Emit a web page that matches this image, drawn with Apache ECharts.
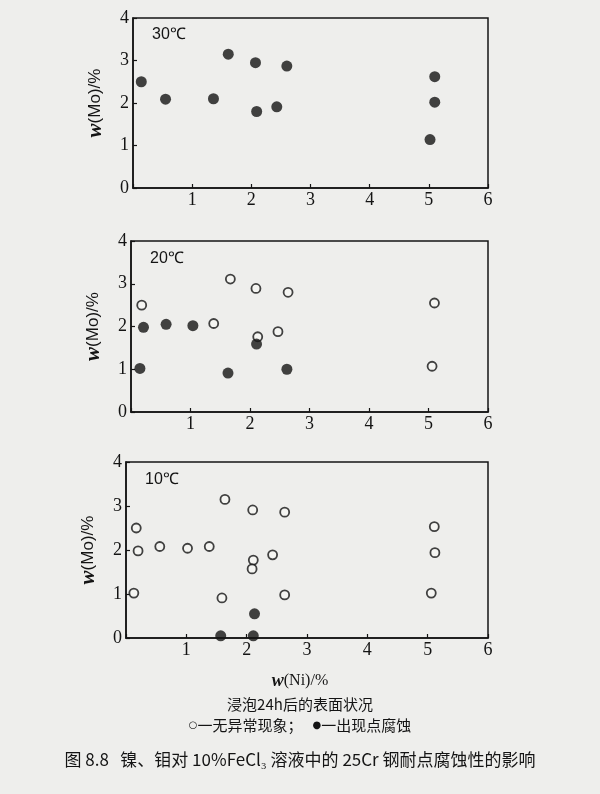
<!DOCTYPE html>
<html><head><meta charset="utf-8">
<script src="https://cdn.jsdelivr.net/npm/echarts@6/dist/echarts.min.js"></script>
<style>html,body{margin:0;background:#eeeeec}#c{width:600px;height:794px}</style></head>
<body><div id="c"></div>
<script>
// Data: [w(Ni)%, w(Mo)%]
const temps = ['30℃', '20℃', '10℃'];
const p30_ok = [];
const p30_pit = [[0.14,2.50],[0.55,2.09],[1.36,2.10],[1.61,3.15],[2.07,2.95],[2.09,1.80],[2.43,1.91],[2.60,2.87],[5.10,2.62],[5.10,2.02],[5.02,1.14]];
const p20_ok = [[0.18,2.50],[1.39,2.07],[1.67,3.11],[2.10,2.89],[2.13,1.76],[2.47,1.88],[2.64,2.80],[5.10,2.55],[5.06,1.07]];
const p20_pit = [[0.15,1.02],[0.21,1.98],[0.59,2.05],[1.04,2.02],[1.63,0.91],[2.11,1.59],[2.62,1.00]];
const p10_ok = [[0.17,2.50],[0.20,1.98],[0.13,1.02],[0.56,2.08],[1.02,2.04],[1.38,2.08],[1.64,3.15],[2.10,2.91],[2.11,1.77],[2.09,1.57],[2.43,1.89],[1.59,0.91],[2.63,2.86],[2.63,0.98],[5.11,2.53],[5.12,1.94],[5.06,1.02]];
const p10_pit = [[1.57,0.05],[2.11,0.05],[2.13,0.55]];
const xTicks = [0,1,2,3,4,5,6];
const yTicks = [0,1,2,3,4];
const noteLine1 = '浸泡24h后的表面状况';
const legendOk = '一无异常现象；';
const legendPit = '一出现点腐蚀';
const caption = '图 8.8   镍、钼对 10%FeCl₃ 溶液中的 25Cr 钢耐点腐蚀性的影响';

const okSets = [p30_ok, p20_ok, p10_ok];
const pitSets = [p30_pit, p20_pit, p10_pit];
const ink = '#141414';
const grids = [
  {left:133, top:18, width:355, height:170},
  {left:131, top:241, width:357, height:171},
  {left:126, top:462, width:362, height:176}
];
const chart = echarts.init(document.getElementById('c'));
const xAxes = [], yAxes = [], series = [], graphics = [];
grids.forEach((g, i) => {
  g.show = true; g.borderColor = ink; g.borderWidth = 1.5; g.backgroundColor = 'transparent';
  xAxes.push({gridIndex:i, type:'value', min:xTicks[0], max:xTicks[xTicks.length-1], interval:1,
    axisLine:{onZero:false, lineStyle:{color:ink, width:1.5}},
    axisTick:{inside:true, length:4, lineStyle:{color:ink, width:1.2}},
    axisLabel:{margin:3, color:ink, fontFamily:'Liberation Serif', fontSize:18,
      formatter: v => v === 0 ? '' : String(v)},
    splitLine:{show:false}});
  yAxes.push({gridIndex:i, type:'value', min:yTicks[0], max:yTicks[yTicks.length-1], interval:1,
    name: '{i|w}{n|(Mo)/%}', nameLocation:'middle', nameGap:27, nameRotate:90,
    nameTextStyle:{rich:{i:{fontFamily:'Liberation Serif', fontStyle:'italic', fontWeight:'bold', fontSize:21, color:ink},
                         n:{fontFamily:'Liberation Sans', fontSize:17, color:ink}}},
    axisLine:{lineStyle:{color:ink, width:1.5}},
    axisTick:{inside:true, length:4, lineStyle:{color:ink, width:1.2}},
    axisLabel:{margin:4, color:ink, fontFamily:'Liberation Serif', fontSize:18},
    splitLine:{show:false}});
  series.push({type:'scatter', xAxisIndex:i, yAxisIndex:i, data:okSets[i], symbol:'circle', symbolSize:9,
    itemStyle:{color:'#f6f6f4', borderColor:ink, borderWidth:1.8}});
  series.push({type:'scatter', xAxisIndex:i, yAxisIndex:i, data:pitSets[i], symbol:'circle', symbolSize:11,
    itemStyle:{color:ink}});
  graphics.push({type:'text', left:g.left + 19, top:g.top + (i===0?9:10),
    style:{text:temps[i], font:'16px "Liberation Sans"', fill:ink}});
});
graphics.push({type:'text', left:'center', top:672,
  style:{text:'{i|w}{n|(Ni)/%}', rich:{i:{fontFamily:'Liberation Serif', fontStyle:'italic', fontWeight:'bold', fontSize:18, fill:ink},
        n:{fontFamily:'Liberation Serif', fontSize:16, fill:ink}}, fill:ink}});
graphics.push({type:'text', left:'center', top:697,
  style:{text:noteLine1, font:'15px "Noto Sans CJK SC"', fill:ink}});
graphics.push({type:'text', left:'center', top:718,
  style:{text:'{s|○}{t|' + legendOk + '}   {s|●}{t|' + legendPit + '}',
    rich:{s:{fontFamily:'DejaVu Sans', fontSize:10, fill:ink, verticalAlign:'middle'},
          t:{fontFamily:'Noto Sans CJK SC', fontSize:15, fill:ink}}}});
graphics.push({type:'text', left:'center', top:751,
  style:{text:caption, font:'17px "Noto Sans CJK SC"', fill:ink}});

chart.setOption({
  backgroundColor:'#eeeeec',
  animation:false,
  grid:grids, xAxis:xAxes, yAxis:yAxes, series:series, graphic:graphics
});
</script></body></html>
